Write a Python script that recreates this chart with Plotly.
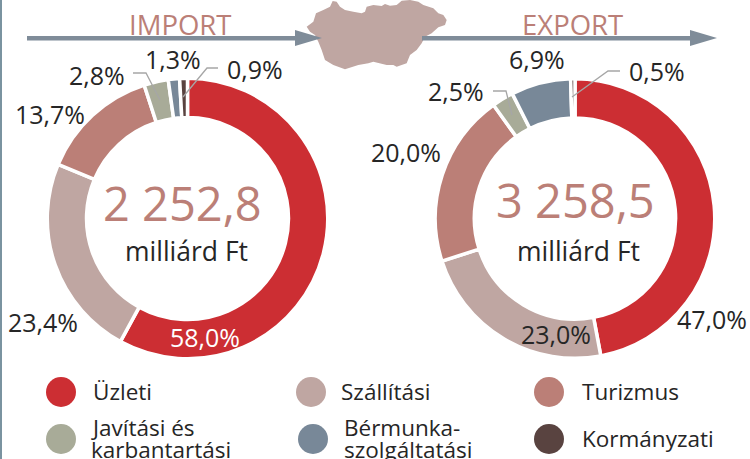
import plotly.graph_objects as go

W, H = 750, 459
categories = ["Üzleti", "Szállítási", "Turizmus", "Javítási és karbantartási", "Bérmunka-szolgáltatási", "Kormányzati"]
import_values = [58.0, 23.4, 13.7, 2.8, 1.3, 0.9]
export_values = [47.0, 23.0, 20.0, 2.5, 6.9, 0.5]
colors = ["#cc2e33", "#bfa6a2", "#bb7f77", "#a8ab98", "#788898", "#594340"]
FONT = "Open Sans"
DARK = "#262626"
ROSE = "#bb7f77"
ARROW = "#7f8c99"
LEADER = "#a6a6a6"

def px(x): return x / W
def py(y): return 1 - y / H

def donut(vals, x0, x1, y0, y1, name):
    return go.Pie(values=vals, labels=categories, name=name, sort=False, direction="clockwise",
                  rotation=0, hole=0.72, textinfo="none", hoverinfo="label+percent",
                  showlegend=False, marker=dict(colors=colors, line=dict(color="white", width=3.5)),
                  domain=dict(x=[px(x0), px(x1)], y=[py(y1), py(y0)]))

fig = go.Figure()
fig.add_trace(donut(import_values, 47.25, 327.75, 78.25, 358.75, "IMPORT"))
fig.add_trace(donut(export_values, 435.25, 714.75, 78.25, 358.75, "EXPORT"))

shapes = []
ann = []

def text(x, y, s, size=25, color=DARK, anchor="center", weight=400):
    ann.append(dict(x=px(x), y=py(y), xref="paper", yref="paper", text=s, showarrow=False,
                    xanchor=anchor, yanchor="middle", align="left",
                    font=dict(family=FONT, size=size, color=color, weight=weight)))

def path(points, fill=None, line=None, width=1):
    d = "M " + " L ".join(f"{px(x):.5f},{py(y):.5f}" for x, y in points)
    if fill:
        d += " Z"
    shapes.append(dict(type="path", path=d, xref="paper", yref="paper",
                       fillcolor=fill or "rgba(0,0,0,0)",
                       line=dict(color=line or "rgba(0,0,0,0)", width=width)))

# left edge
path([(0, 0), (2, 0), (2, H), (0, H)], fill="#7a93a0")

# map silhouette
outline = [(128,3),(140,5),(150,20),(165,30),(190,35),(215,40),(225,35),(230,20),(250,15),(275,18),
           (285,12),(300,17),(320,15),(335,2),(360,0),(385,5),(400,15),(430,25),(445,40),(460,45),
           (470,60),(465,75),(445,82),(425,100),(405,110),(395,130),(380,150),(360,165),(350,190),
           (320,200),(310,195),(290,195),(250,185),(235,190),(205,195),(165,208),(130,195),(105,180),
           (95,150),(85,125),(75,105),(60,95),(50,80),(70,65),(78,40),(100,30),(120,20)]
path([(290 + a / 3, b / 3) for a, b in outline], fill="#bfa6a2")

# arrows
for x0, x1, tip in [(27, 296, 322), (422, 691, 717)]:
    path([(x0, 36), (x1, 36), (x1, 40.5), (x0, 40.5)], fill=ARROW)
    path([(x1 - 1, 30), (tip, 38), (x1 - 1, 46)], fill=ARROW)

# leader lines
for pts in [[(133, 73), (146, 73), (160, 100)], [(218, 68), (207, 68), (183, 97)],
            [(493, 91), (506, 91), (512, 115)], [(620, 71), (608, 71), (572, 97)]]:
    path(pts, line=LEADER, width=1.3)

# titles and centres
text(180, 24, "IMPORT", 27.5, ROSE)
text(572, 24, "EXPORT", 27.5, ROSE)
text(182, 203, "2 252,8", 47, ROSE)
text(575, 200, "3 258,5", 47, ROSE)
text(186, 251, "milliárd Ft", 26.5)
text(578, 251, "milliárd Ft", 26.5)

def pct(v): return f"{v:.1f}".replace(".", ",") + "%"

import_pos = [(205, 337, "white"), (43, 322, DARK), (50, 114, DARK), (97, 75, DARK), (173, 59, DARK), (255, 69, DARK)]
export_pos = [(712, 319, DARK), (556, 334, DARK), (406, 152, DARK), (456, 91, DARK), (537, 59, DARK), (657, 71, DARK)]
for vals, pos in [(import_values, import_pos), (export_values, export_pos)]:
    for v, (x, y, c) in zip(vals, pos):
        text(x, y, pct(v), 25, c)

# legend
legend_pos = [(61, 392), (311, 392), (549, 392), (61, 439), (313, 439), (549, 439)]
for (x, y), c in zip(legend_pos, colors):
    shapes.append(dict(type="circle", xref="paper", yref="paper", x0=px(x - 15), x1=px(x + 15),
                       y0=py(y + 15), y1=py(y - 15), fillcolor=c, line=dict(width=0)))
LS = 22.5
text(91, 391, "Üzleti", LS, anchor="left")
text(339, 391, "Szállítási", LS, anchor="left")
text(580, 391, "Turizmus", LS, anchor="left")
text(89, 427, "Javítási és", LS, anchor="left")
text(89, 449, "karbantartási", LS, anchor="left")
text(342, 427, "Bérmunka-", LS, anchor="left")
text(342, 449, "szolgáltatási", LS, anchor="left")
text(580, 438, "Kormányzati", LS, anchor="left")

fig.update_layout(width=W, height=H, margin=dict(l=0, r=0, t=0, b=0), paper_bgcolor="white",
                  plot_bgcolor="white", shapes=shapes, annotations=ann)
fig.write_html("out.html", config=dict(displayModeBar=False), post_script="document.body.style.margin='0';")
